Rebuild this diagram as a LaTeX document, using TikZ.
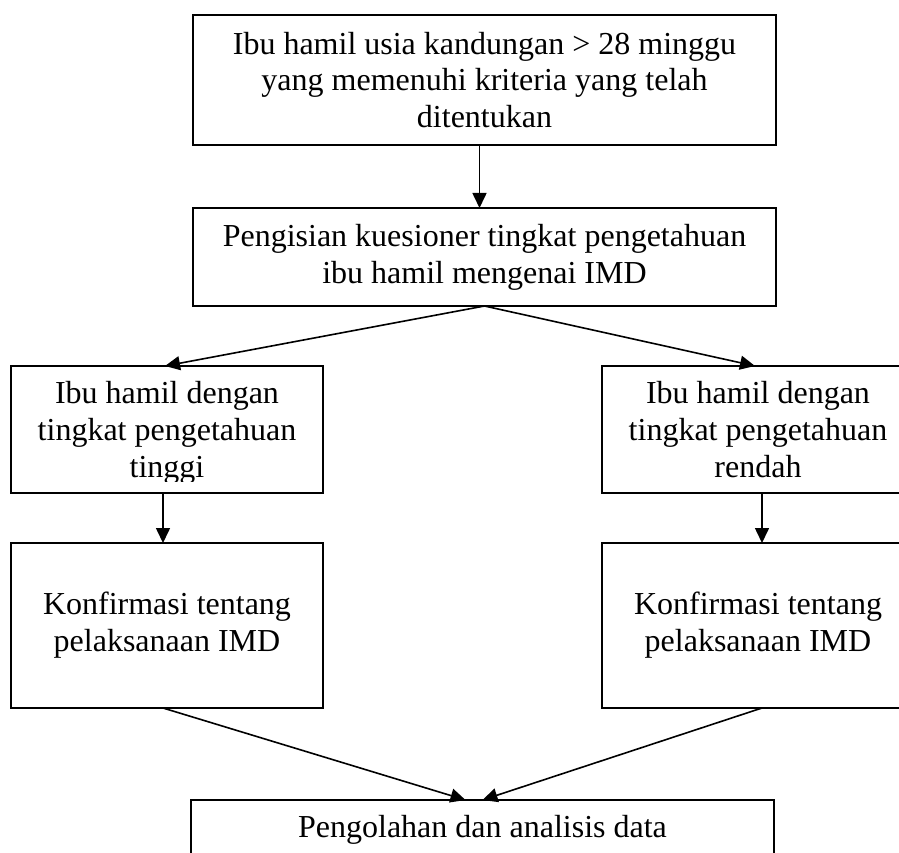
\documentclass[tikz,border=0pt]{standalone}
\usepackage{fontspec}
\setmainfont{Liberation Serif}
\usetikzlibrary{arrows.meta}
\begin{document}
\begin{tikzpicture}[x=1pt,y=-1pt,
  box/.style={draw,line width=1.6pt,inner sep=0pt,outer sep=0pt,align=center,font=\fontsize{32}{36.8}\selectfont},
  txt/.style={inner sep=0pt,align=center,font=\fontsize{32}{36.8}\selectfont},
  arr/.style={line width=1.6pt,-{Triangle[length=15pt,width=14pt]}}]
\useasboundingbox (0,0) rectangle (899,853);
\clip (0,0) rectangle (899,853);
\fill[white] (0,0) rectangle (899,853);
% boxes
\node[box,minimum width=583pt,minimum height=130pt] (b1) at (484.5,80)
  {Ibu hamil usia kandungan > 28 minggu\\ yang memenuhi kriteria yang telah\\ ditentukan};
\node[box,minimum width=583pt,minimum height=98pt] (b2) at (484.5,257)
  {Pengisian kuesioner tingkat pengetahuan\\ ibu hamil mengenai IMD};
\node[box,minimum width=312pt,minimum height=127pt] (b3) at (167,429.5) {};
\begin{scope}
  \clip (11,366) rectangle (323,481);
  \node[txt] (b3t) at (167,433) {Ibu hamil dengan\\ tingkat pengetahuan\\ tinggi};
\end{scope}
\node[box,minimum width=312pt,minimum height=127pt] (b4) at (758,429.5)
  {Ibu hamil dengan\\ tingkat pengetahuan\\ rendah};
\node[box,minimum width=312pt,minimum height=165pt] (b5) at (167,625.5)
  {Konfirmasi tentang\\ pelaksanaan IMD};
\node[box,minimum width=312pt,minimum height=165pt] (b6) at (758,625.5)
  {Konfirmasi tentang\\ pelaksanaan IMD};
\node[box,minimum width=583pt,minimum height=100pt] (b7) at (482.5,850) {};
\node[txt] (b7t) at (482.5,829.6) {Pengolahan dan analisis data};
% connectors
\draw[arr] ([xshift=-5pt]b1.south) -- ([xshift=-5pt]b2.north);
\draw[arr] (b2.south) -- ([xshift=-2pt]b3.north);
\draw[arr] (b2.south) -- ([xshift=-3pt]b4.north);
\draw[arr] ([xshift=-4pt]b3.south) -- ([xshift=-4pt]b5.north);
\draw[arr] ([xshift=4pt]b4.south) -- ([xshift=4pt]b6.north);
\draw[arr] ([xshift=-4pt]b5.south) -- ([xshift=-17pt]b7.north);
\draw[arr] ([xshift=4pt]b6.south) -- ([xshift=0pt]b7.north);
\end{tikzpicture}
\end{document}
